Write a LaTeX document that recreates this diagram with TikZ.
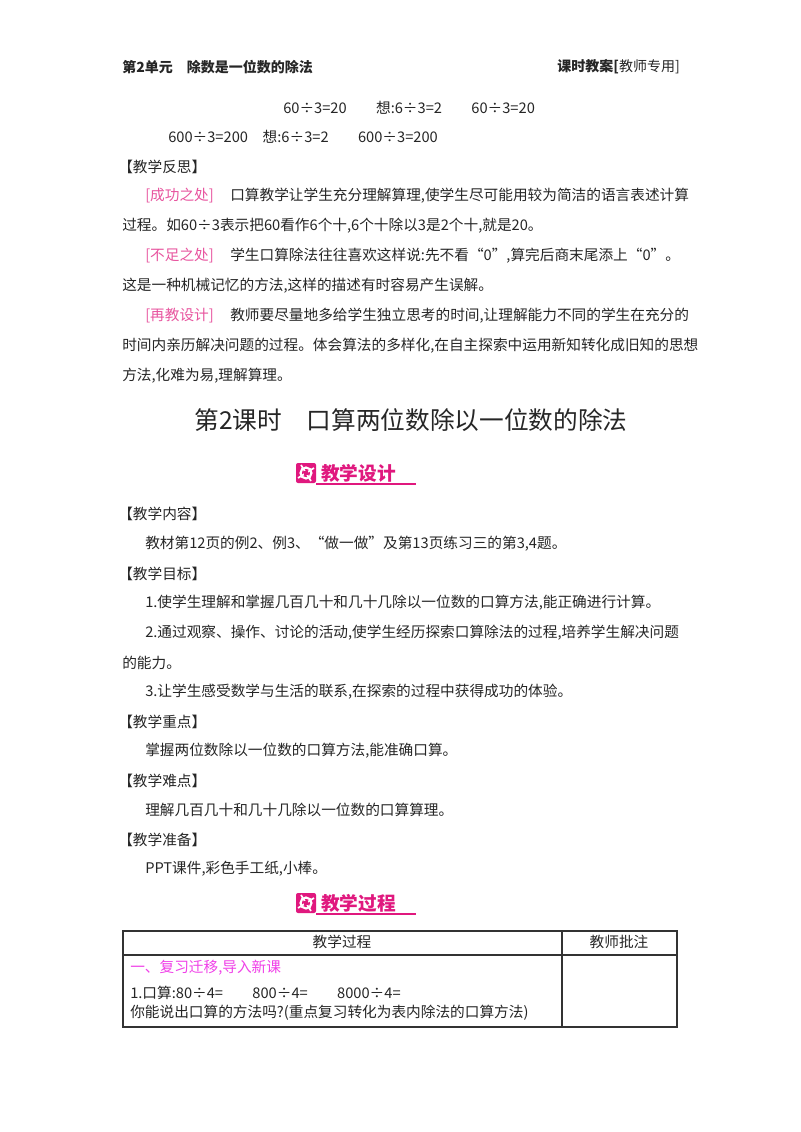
\documentclass[tikz,border=0pt]{standalone}
\usepackage{fontspec}
\setmainfont{Noto Sans CJK SC}
\definecolor{pk}{HTML}{E0187E}
\definecolor{pkl}{HTML}{E8559F}
\definecolor{mg}{HTML}{F040E8}
\begin{document}
\begin{tikzpicture}[x=0.75pt,y=-0.75pt,
  t/.style={anchor=west,inner sep=0pt,font=\fontsize{11}{12}\selectfont,text=black!85},
  hd/.style={t,font=\fontsize{10.5}{12}\selectfont\bfseries},
  lab/.style={t,text=pkl},
  ban/.style={anchor=west,inner sep=0pt,font=\fontsize{14}{16}\selectfont\bfseries,text=pk}]
\useasboundingbox (0,0) rectangle (800,1132);
\fill[white] (0,0) rectangle (800,1132);
\node[hd] (h1) at (122,67) {第2单元\quad 除数是一位数的除法};
\node[hd,anchor=east] (h2) at (680,67) {课时教案[\mdseries 教师专用]};
\node[t] (e1) at (283,108) {60÷3=20\qquad 想:6÷3=2\qquad 60÷3=20};
\node[t] (e2) at (168,137) {600÷3=200\quad 想:6÷3=2\qquad 600÷3=200};
\node[t] (r0) at (118,167) {【教学反思】};
\node[lab] (r1a) at (145,196) {[成功之处]};
\node[t] (r1b) at (230,196) {口算教学让学生充分理解算理,使学生尽可能用较为简洁的语言表述计算};
\node[t] (r1c) at (122,226) {过程。如60÷3表示把60看作6个十,6个十除以3是2个十,就是20。};
\node[lab] (r2a) at (145,256) {[不足之处]};
\node[t] (r2b) at (230,256) {学生口算除法往往喜欢这样说:先不看“0”,算完后商末尾添上“0”。};
\node[t] (r2c) at (122,286) {这是一种机械记忆的方法,这样的描述有时容易产生误解。};
\node[lab] (r3a) at (145,316) {[再教设计]};
\node[t] (r3b) at (230,316) {教师要尽量地多给学生独立思考的时间,让理解能力不同的学生在充分的};
\node[t] (r3c) at (122,346) {时间内亲历解决问题的过程。体会算法的多样化,在自主探索中运用新知转化成旧知的思想};
\node[t] (r3d) at (122,376) {方法,化难为易,理解算理。};
\node[anchor=center,inner sep=0pt,font=\fontsize{18.5}{20}\selectfont,text=black!85] (title) at (411,420) {第2课时\quad 口算两位数除以一位数的除法};
\foreach \y/\txt/\nm in {473/教学设计/b1,903/教学过程/b2}{
  \fill[pk,rounded corners=1.5pt] (296,\y-10) rectangle (316,\y+10);
  \draw[white,line width=1.6pt] (306,\y) circle (5.5);
  \draw[white,line width=1.3pt] (301,\y-8)--(311,\y+8) (298,\y+5)--(314,\y-5);
  \fill[pk] (306,\y) circle (2.5);
  \node[ban] (\nm) at (321,\y) {\txt};
  \draw[pk,line width=0.8pt] (316,\y+11)--(416,\y+11);
}
\node[t] (c0) at (118,514) {【教学内容】};
\node[t] (c1) at (145,544) {教材第12页的例2、例3、“做一做”及第13页练习三的第3,4题。};
\node[t] (g0) at (118,574) {【教学目标】};
\node[t] (g1) at (145,603) {1.使学生理解和掌握几百几十和几十几除以一位数的口算方法,能正确进行计算。};
\node[t] (g2) at (145,633) {2.通过观察、操作、讨论的活动,使学生经历探索口算除法的过程,培养学生解决问题};
\node[t] (g2b) at (122,663) {的能力。};
\node[t] (g3) at (145,692) {3.让学生感受数学与生活的联系,在探索的过程中获得成功的体验。};
\node[t] (k0) at (118,722) {【教学重点】};
\node[t] (k1) at (145,751) {掌握两位数除以一位数的口算方法,能准确口算。};
\node[t] (d0) at (118,781) {【教学难点】};
\node[t] (d1) at (145,810) {理解几百几十和几十几除以一位数的口算算理。};
\node[t] (p0) at (118,840) {【教学准备】};
\node[t] (p1) at (145,869) {PPT课件,彩色手工纸,小棒。};
\draw[black!80,line width=0.9pt] (123,931) rectangle (677,1027);
\draw[black!80,line width=0.9pt] (123,955)--(677,955) (562,931)--(562,1027);
\node[t,anchor=center] (th1) at (342,942) {教学过程};
\node[t,anchor=center] (th2) at (619,942) {教师批注};
\node[t,text=mg] (tr1) at (130,968) {一、复习迁移,导入新课};
\node[t] (tr2) at (130,993) {1.口算:80÷4=\qquad 800÷4=\qquad 8000÷4=};
\node[t] (tr3) at (130,1013) {你能说出口算的方法吗?(重点复习转化为表内除法的口算方法)};
\end{tikzpicture}
\end{document}
